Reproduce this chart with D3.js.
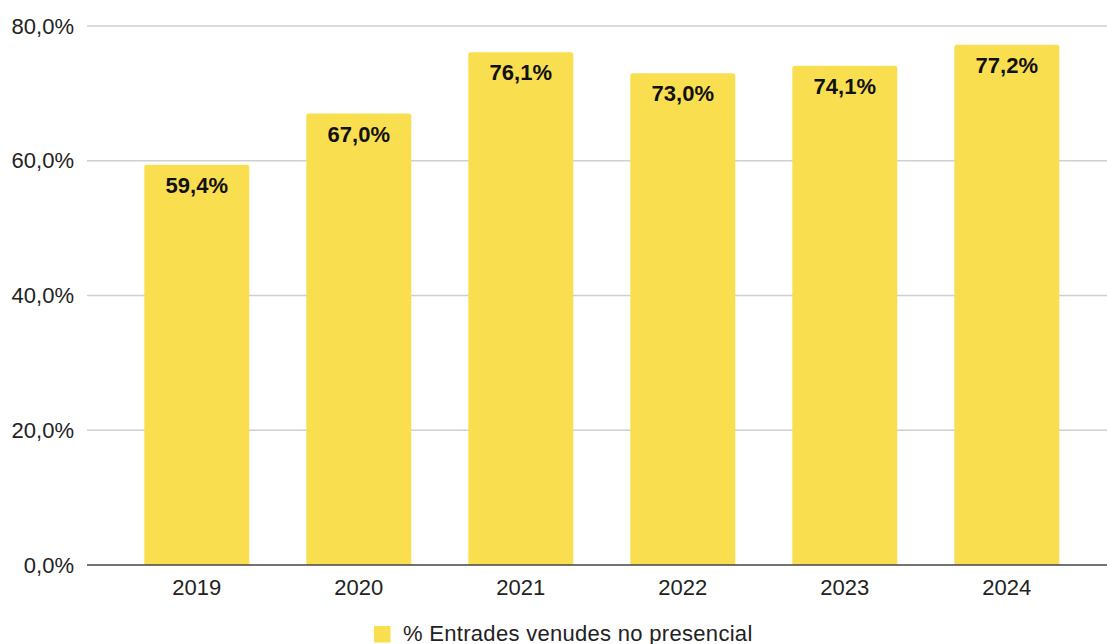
<!DOCTYPE html>
<html>
<head>
<meta charset="utf-8">
<script src="https://cdn.jsdelivr.net/npm/d3@7"></script>
<style>
  body { margin: 0; background: #fff; }
  text { font-family: "Liberation Sans", Arial, sans-serif; }
</style>
</head>
<body>
<div id="chart"></div>
<script>
const years = ["2019", "2020", "2021", "2022", "2023", "2024"];
const values = [59.4, 67.0, 76.1, 73.0, 74.1, 77.2];
const yTicks = [0, 20, 40, 60, 80];
const seriesName = "% Entrades venudes no presencial";

const width = 1107;
const height = 644;
const gridLeft = 87;
const barColor = "#f9df50";

const fmt = v => v.toFixed(1).replace(".", ",") + "%";

const svg = d3.select("#chart")
  .append("svg")
  .attr("width", width)
  .attr("height", height);

const y = d3.scaleLinear()
  .domain([0, 80])
  .range([565, 26]);

const x = d3.scaleBand()
  .domain(years)
  .range([115.8, 1087.8])
  .paddingInner(0.352)
  .paddingOuter(0.176);

// gridlines
svg.append("g")
  .selectAll("line")
  .data(yTicks.filter(d => d > 0))
  .join("line")
    .attr("x1", gridLeft)
    .attr("x2", width)
    .attr("y1", d => y(d))
    .attr("y2", d => y(d))
    .attr("stroke", "#cfcfcf")
    .attr("stroke-width", 1.3);

// y labels
svg.append("g")
  .selectAll("text")
  .data(yTicks)
  .join("text")
    .attr("x", 74)
    .attr("y", d => y(d))
    .attr("dy", "0.35em")
    .attr("text-anchor", "end")
    .attr("font-size", 22)
    .attr("fill", "#222")
    .text(d => fmt(d));

// bars
svg.append("g")
  .selectAll("path")
  .data(values)
  .join("path")
    .attr("fill", barColor)
    .attr("d", (d, i) => {
      const x0 = x(years[i]), w = x.bandwidth(), y0 = y(d), y1 = y(0), r = 2.5;
      return `M${x0},${y1}V${y0 + r}Q${x0},${y0} ${x0 + r},${y0}H${x0 + w - r}Q${x0 + w},${y0} ${x0 + w},${y0 + r}V${y1}Z`;
    });

// value labels
svg.append("g")
  .selectAll("text")
  .data(values)
  .join("text")
    .attr("x", (d, i) => x(years[i]) + x.bandwidth() / 2)
    .attr("y", d => y(d) + 28)
    .attr("text-anchor", "middle")
    .attr("font-size", 22)
    .attr("font-weight", "bold")
    .attr("fill", "#111")
    .text(d => fmt(d));

// baseline
svg.append("line")
  .attr("x1", gridLeft)
  .attr("x2", width)
  .attr("y1", y(0))
  .attr("y2", y(0))
  .attr("stroke", "#444")
  .attr("stroke-width", 1.3);

// x labels
svg.append("g")
  .selectAll("text")
  .data(years)
  .join("text")
    .attr("x", d => x(d) + x.bandwidth() / 2)
    .attr("y", 595)
    .attr("text-anchor", "middle")
    .attr("font-size", 22)
    .attr("fill", "#222")
    .text(d => d);

// legend
const legend = svg.append("g");
legend.append("rect")
  .attr("x", 374)
  .attr("y", 626)
  .attr("width", 16.5)
  .attr("height", 16.5)
  .attr("fill", barColor);
legend.append("text")
  .attr("x", 403)
  .attr("y", 640.5)
  .attr("font-size", 22)
  .attr("letter-spacing", 0.3)
  .attr("fill", "#222")
  .text(seriesName);
</script>
</body>
</html>
